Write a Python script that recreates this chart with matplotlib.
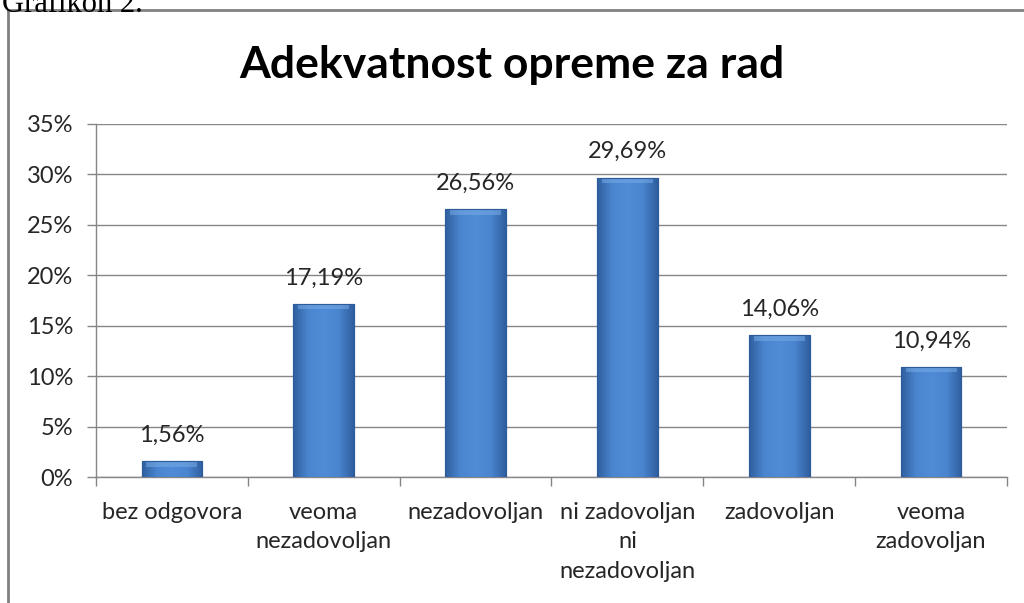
import matplotlib
matplotlib.use("Agg")
import matplotlib.pyplot as plt
import numpy as np
from matplotlib.lines import Line2D
from matplotlib.colors import LinearSegmentedColormap

categories = ["bez odgovora", "veoma\nnezadovoljan", "nezadovoljan",
              "ni zadovoljan\nni\nnezadovoljan", "zadovoljan", "veoma\nzadovoljan"]
values = [1.56, 17.19, 26.56, 29.69, 14.06, 10.94]
value_labels = ["1,56%", "17,19%", "26,56%", "29,69%", "14,06%", "10,94%"]
yticks = [0, 5, 10, 15, 20, 25, 30, 35]
ytick_labels = ["0%", "5%", "10%", "15%", "20%", "25%", "30%", "35%"]
title = "Adekvatnost opreme za rad"

FONT = ["Lato", "DejaVu Sans"]
plt.rcParams['font.family'] = FONT
TXT = "#262626"
GRID = "#868686"

fig = plt.figure(figsize=(10.24, 6.03), dpi=100)
ax = fig.add_axes([96/1024, 1-477/603, 911/1024, (477-124)/603])

x = np.arange(len(categories))
bars = ax.bar(x, values, width=0.4, color="#4078C0", edgecolor="#2D5C98",
              linewidth=0.8, zorder=3)

cmap = LinearSegmentedColormap.from_list("b", ["#2F5E9E", "#4A86D0", "#4F8BD6", "#4A86D0", "#2F5E9E"])
grad = np.linspace(0, 1, 256).reshape(1, -1)
for b in bars:
    x0, w, h = b.get_x(), b.get_width(), b.get_height()
    im = ax.imshow(grad, extent=[x0, x0 + w, 0, h], aspect="auto", cmap=cmap,
                   zorder=3.5, origin="lower")
    im.set_clip_path(b)
    ax.fill_between([x0 + w*0.08, x0 + w*0.92], h - min(h*0.35, 0.55), h,
                    color="#7DAEE8", alpha=0.5, zorder=3.7, linewidth=0)
    ax.add_patch(plt.Rectangle((x0, 0), w, h, fill=False, edgecolor="#2D5C98",
                               linewidth=0.8, zorder=4))

for xi, v, lab in zip(x, values, value_labels):
    ax.annotate(lab, (xi, v), xytext=(0, 11), textcoords="offset points",
                ha="center", va="bottom", fontsize=17, color=TXT)

ax.set_xlim(-0.5, len(categories) - 0.5)
ax.set_ylim(0, 35)
ax.set_yticks(yticks)
ax.set_yticklabels(ytick_labels, fontsize=17, color=TXT)
ax.set_xticks(x)
ax.set_xticklabels(categories, fontsize=17, color=TXT, linespacing=1.5)
ax.set_xticks(np.arange(-0.5, len(categories)), minor=True)
ax.tick_params(axis="x", which="major", length=0, pad=18)
ax.tick_params(axis="x", which="minor", length=6.5, color=GRID, width=1)
ax.tick_params(axis="y", length=6.5, color=GRID, width=1, pad=10)
ax.grid(axis="y", color=GRID, linewidth=1, zorder=0)
for s in ["top", "right"]:
    ax.spines[s].set_visible(False)
for s in ["bottom", "left"]:
    ax.spines[s].set_color(GRID)
    ax.spines[s].set_linewidth(1)

fig.text(0.5, 1-65/603, title, ha="center", va="center", fontsize=32,
         fontweight="bold", color="black")

# chart frame
fig.add_artist(Line2D([8/1024, 8/1024], [0, 1-10/603], color="#808080", linewidth=2))
fig.add_artist(Line2D([8/1024, 1], [1-10/603, 1-10/603], color="#808080", linewidth=2))

# caption above frame, partly cut off as in the reference
fig.text(2/1024, 1+10/603, "Grafikon 2.", ha="left", va="top", fontsize=22,
         family=["Liberation Serif", "DejaVu Serif"])

fig.savefig("out.png", dpi=100)
